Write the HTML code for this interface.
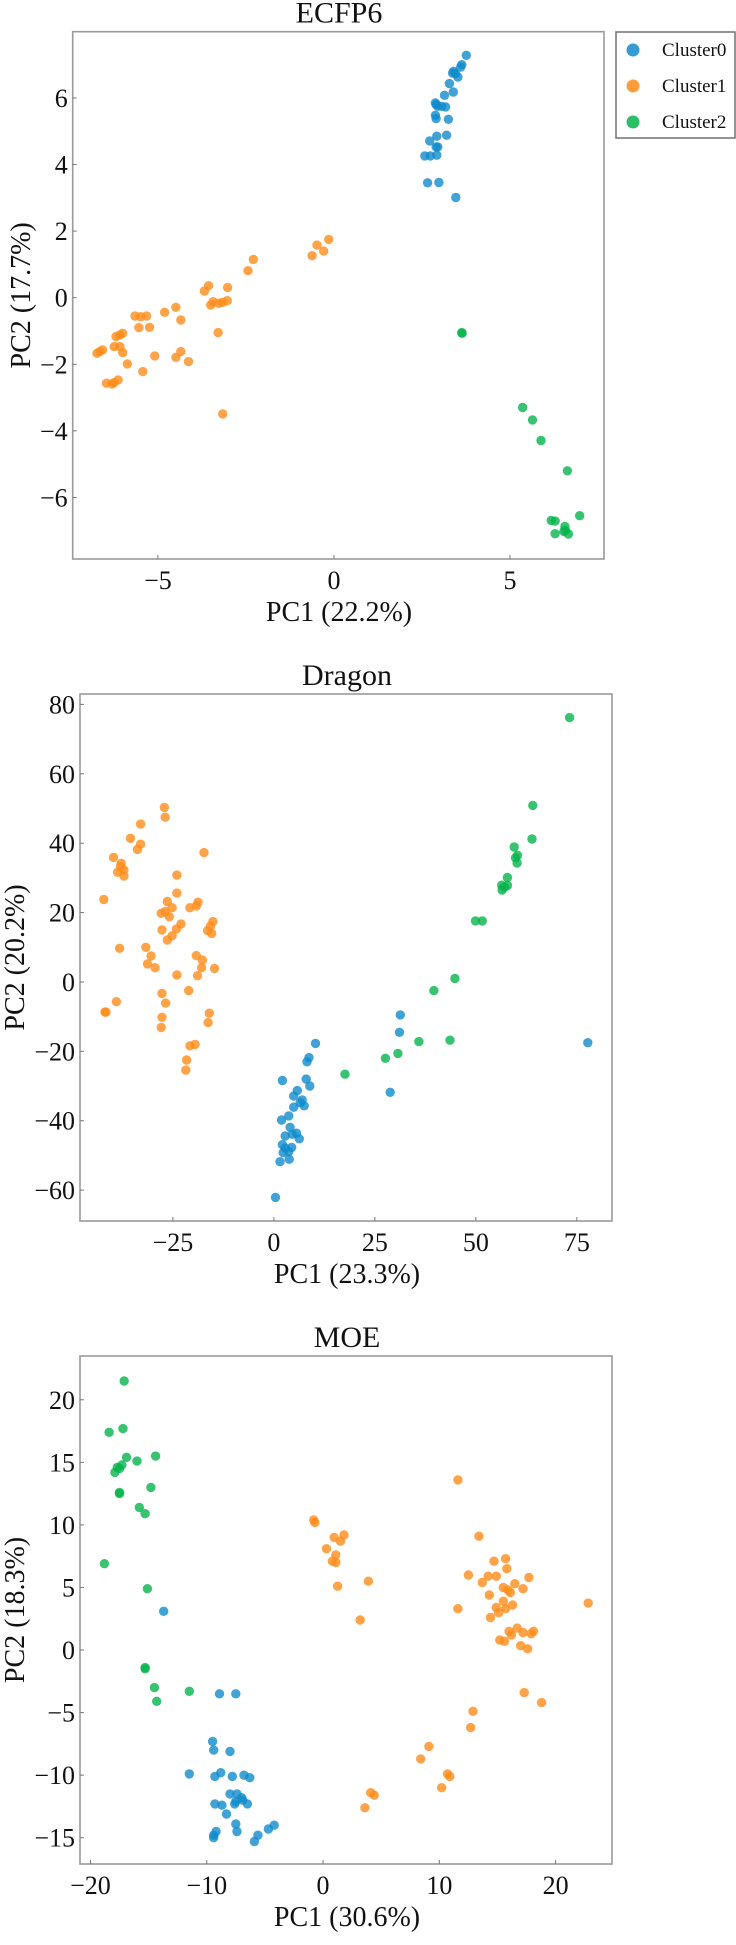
<!DOCTYPE html>
<html>
<head>
<meta charset="utf-8">
<style>
  html, body { margin: 0; padding: 0; background: #ffffff; }
  body { width: 736px; height: 1945px; overflow: hidden; }
  svg { display: block; font-family: "Liberation Serif", "DejaVu Serif", serif; }
</style>
</head>
<body>
<svg id="fig" width="736" height="1945" viewBox="0 0 736 1945" xmlns="http://www.w3.org/2000/svg"></svg>
<script>
// ---------- Data: ECFP6 ----------
const ecfpCluster0X = [3.76,3.63,3.6,3.52,3.37,3.45,3.28,3.39,3.14,2.88,2.95,3.06,3.17,2.88,2.9,3.25,3.2,2.92,2.72,2.9,2.95,2.58,2.74,2.92,2.66,2.98,3.46,3.4,2.9];
const ecfpCluster0Y = [7.28,7.0,6.93,6.63,6.75,6.73,6.43,6.18,6.08,5.85,5.75,5.75,5.73,5.48,5.38,5.36,4.88,4.85,4.71,4.53,4.53,4.26,4.26,4.28,3.45,3.46,3.01,6.8,5.8];
const ecfpCluster1X = [-0.15,-0.48,-0.29,-0.62,-2.29,-2.44,-3.56,-3.02,-3.68,-3.43,-3.5,-3.16,-3.03,-3.27,-4.49,-4.81,-4.35,-5.65,-5.49,-5.32,-5.54,-5.24,-3.29,-6.19,-6.08,-6.0,-6.24,-6.08,-6.65,-6.57,-6.73,-6.0,-5.09,-4.49,-4.35,-4.13,-5.87,-5.43,-6.46,-6.3,-6.13,-6.24,-3.16];
const ecfpCluster1Y = [1.75,1.58,1.4,1.26,1.15,0.81,0.36,0.31,0.2,-0.12,-0.22,-0.14,-0.09,-0.17,-0.29,-0.44,-0.67,-0.55,-0.57,-0.55,-0.9,-0.89,-1.05,-1.17,-1.12,-1.07,-1.47,-1.47,-1.62,-1.57,-1.67,-1.65,-1.75,-1.79,-1.62,-1.92,-1.99,-2.22,-2.57,-2.59,-2.47,-2.55,-3.49];
const ecfpCluster2X = [3.63,3.64,5.36,5.64,5.88,6.63,6.98,6.17,6.28,6.28,6.56,6.58,6.66,6.53];
const ecfpCluster2Y = [-1.05,-1.07,-3.3,-3.67,-4.29,-5.2,-6.55,-6.69,-6.71,-7.09,-6.87,-6.99,-7.1,-7.02];
const ecfpXTicks = [-5,0,5];
const ecfpYTicks = [-6,-4,-2,0,2,4,6];

// ---------- Data: Dragon ----------
const dragonCluster0X = [31.3,31.1,77.7,10.3,8.7,8.2,2.1,8,8.9,5.8,28.8,4.9,7,7.5,4.9,3.7,1.9,4,2.8,4.6,5.6,6.3,2.1,2.8,4.4,2.3,3.7,3.8,1.5,0.4,6.5];
const dragonCluster0Y = [-9.5,-14.5,-17.5,-17.7,-21.8,-23,-28.4,-28,-30,-31.3,-31.8,-32.9,-34,-35.7,-36.1,-38.6,-39.8,-41.9,-44.4,-43.9,-43.6,-45.2,-46.9,-47.9,-47.7,-49.2,-48.9,-51.1,-51.8,-62.1,-34.8];
const dragonCluster1X = [-27.1,-26.9,-33,-35.5,-33,-33.8,-39.7,-37.8,-38,-37.1,-38.7,-37.1,-17.3,-24,-24,-42.1,-26.4,-18.8,-25.2,-20.8,-19.2,-27.9,-26.9,-25.9,-23,-15.1,-15.7,-16.4,-15.4,-27.7,-24.1,-25.2,-26.4,-38.2,-31.7,-30.4,-31.3,-29.4,-19.2,-17.7,-17.9,-14.7,-24,-18.9,-21.1,-27.7,-26.8,-39,-41.8,-41.6,-16,-16.3,-27.7,-27.9,-20.8,-19.5,-21.6,-21.8];
const dragonCluster1Y = [50.3,47.5,45.5,41.4,39.7,38.2,35.9,34.2,33.2,32.3,31.6,30.5,37.3,30.8,25.6,23.8,23.2,23,21.4,21.4,21.9,19.8,20.3,18.8,16.7,17.4,16.1,14.8,14,15,15.3,13.3,12.1,9.7,10,7.5,5.2,4.1,7.6,6.3,4.1,3.9,2,1.8,-2.5,-3.3,-6.1,-5.7,-8.7,-8.7,-9,-11.7,-10.2,-13.1,-18.4,-18,-22.5,-25.4];
const dragonCluster2X = [73.2,64.1,63.9,59.5,60.3,59.8,60.2,57.8,56.4,57.8,56.5,57.1,49.9,51.6,44.8,39.6,35.9,43.6,30.7,27.6,17.6];
const dragonCluster2Y = [76.2,50.9,41.2,38.9,36.5,35.8,34.3,30.1,27.9,27.8,26.5,27.3,17.6,17.6,1,-2.5,-17.2,-16.8,-20.6,-22,-26.6];
const dragonXTicks = [-25,0,25,50,75];
const dragonYTicks = [-60,-40,-20,0,20,40,60,80];

// ---------- Data: MOE ----------
const moeCluster0X = [-13.7,-8.9,-7.5,-9.5,-9.4,-8,-11.5,-9.3,-8.8,-7.8,-6.8,-6.3,-8,-7.4,-7,-6.9,-7.6,-9.3,-8.7,-6.5,-7.5,-8.3,-7.5,-7.4,-9.2,-9.4,-9.4,-4.7,-4.2,-5.6,-5.9];
const moeCluster0Y = [3.1,-3.5,-3.5,-7.3,-8,-8.1,-9.9,-10.1,-9.8,-10.1,-10,-10.2,-11.5,-11.5,-11.8,-12,-12.3,-12.3,-12.4,-12.3,-12.1,-13.1,-13.9,-14.5,-14.5,-14.8,-15,-14.3,-14,-14.8,-15.3];
const moeCluster1X = [-0.8,-0.7,11.6,0.95,1.8,1.5,0.3,1.1,0.8,1.1,1.25,3.9,3.2,13.4,14.7,15.7,15.8,12.5,14.2,14.9,17.7,13.7,16.5,15.5,15.9,17.2,16.1,14.3,15.5,16.3,14.9,15.7,11.6,15.1,14.4,22.8,16.7,16,16.2,17.2,17.9,18.1,15.2,15.6,17,17.6,17.3,18.8,12.9,12.7,9.1,8.4,10.7,10.9,10.2,4.1,4.4,3.6];
const moeCluster1Y = [10.4,10.2,13.6,9,9.2,8.7,8.1,7.6,7.1,7,5.1,5.5,2.4,9.1,7.1,7.3,6.5,6,5.9,5.9,5.8,5.4,5.3,5,4.8,4.9,4.6,4.4,3.9,3.6,3.4,3.3,3.3,3,2.6,3.75,1.75,1.5,1.2,1.4,1.3,1.5,0.8,0.7,0.35,0.1,-3.4,-4.2,-4.9,-6.2,-7.7,-8.7,-9.9,-10.1,-11,-11.4,-11.6,-12.6];
const moeCluster2X = [-17.1,-18.4,-17.2,-16.9,-14.4,-16,-17.3,-17.7,-17.5,-17.9,-17.5,-17.5,-14.8,-15.8,-15.3,-18.8,-15.1,-15.3,-15.3,-14.5,-14.3,-11.5];
const moeCluster2Y = [21.5,17.4,17.7,15.4,15.5,15.1,14.8,14.6,14.5,14.2,12.6,12.5,13,11.4,10.9,6.9,4.9,-1.5,-1.4,-3,-4.1,-3.3];
const moeXTicks = [-20,-10,0,10,20];
const moeYTicks = [-15,-10,-5,0,5,10,15,20];

const clusterNames = ["Cluster0","Cluster1","Cluster2"];
const clusterColors = ["#108bcb","#ff8c1a","#06b44c"];

const NS = "http://www.w3.org/2000/svg";
const svg = document.getElementById("fig");
function mk(tag, attrs, parent) {
  const e = document.createElementNS(NS, tag);
  for (const k in attrs) e.setAttribute(k, attrs[k]);
  (parent || svg).appendChild(e);
  return e;
}
function fmt(v) { return v < 0 ? "\u2212" + Math.abs(v) : String(v); }

function panel(cfg) {
  const g = mk("g", {});
  
  
  const sx = v => cfg.L + (v - cfg.xmin) / (cfg.xmax - cfg.xmin) * (cfg.R - cfg.L);
  const sy = v => cfg.B - (v - cfg.ymin) / (cfg.ymax - cfg.ymin) * (cfg.B - cfg.T);

  // points
  cfg.series.forEach((s, i) => {
    const sg = mk("g", {}, g);
    
    
    s.x.forEach((xv, j) => {
      const c = mk("circle", {cx: sx(xv).toFixed(1), cy: sy(s.y[j]).toFixed(1), r: 4.7, fill: clusterColors[i], "fill-opacity": 0.8}, sg);
      
      
    });
  });

  // frame
  const fr = mk("rect", {x: cfg.L, y: cfg.T, width: cfg.R - cfg.L, height: cfg.B - cfg.T, fill: "none", stroke: "#9a9a9a", "stroke-width": 1.6}, g);
  
  

  // x ticks
  cfg.xt.forEach(v => {
    const X = sx(v);
    mk("line", {x1: X, x2: X, y1: cfg.B, y2: cfg.B - 4, stroke: "#777", "stroke-width": 1}, g);
    const t = mk("text", {x: X, y: cfg.B + 30, "text-anchor": "middle", "font-size": 26, fill: "#111"}, g);
    t.textContent = fmt(v);
    
    
  });
  // y ticks
  cfg.yt.forEach(v => {
    const Y = sy(v);
    mk("line", {x1: cfg.L, x2: cfg.L + 4, y1: Y, y2: Y, stroke: "#777", "stroke-width": 1}, g);
    const t = mk("text", {x: cfg.L - 5, y: Y + 9, "text-anchor": "end", "font-size": 26, fill: "#111"}, g);
    t.textContent = fmt(v);
    
    
  });
  // title
  const tt = mk("text", {x: cfg.tx, y: cfg.T - 9, "text-anchor": "middle", "font-size": 30, fill: "#111"}, g);
  tt.textContent = cfg.title;
  
  
  // x label
  const xl = mk("text", {x: cfg.tx, y: cfg.B + 62, "text-anchor": "middle", "font-size": 28, fill: "#111"}, g);
  xl.textContent = cfg.xlabel;
  
  
  // y label
  const cy = (cfg.T + cfg.B) / 2;
  const yl = mk("text", {x: cfg.ylx, y: cy, "text-anchor": "middle", "font-size": 28, fill: "#111", transform: `rotate(-90 ${cfg.ylx} ${cy})`}, g);
  yl.textContent = cfg.ylabel;
  
  
}

panel({key: "ecfp6", title: "ECFP6", xlabel: "PC1 (22.2%)", ylabel: "PC2 (17.7%)",
  L: 72.7, R: 604, T: 31.7, B: 559, xmin: -7.42, xmax: 7.67, ymin: -7.85, ymax: 7.99,
  tx: 339, ylx: 30, xt: ecfpXTicks, yt: ecfpYTicks,
  series: [{x: ecfpCluster0X, y: ecfpCluster0Y}, {x: ecfpCluster1X, y: ecfpCluster1Y}, {x: ecfpCluster2X, y: ecfpCluster2Y}]});

panel({key: "dragon", title: "Dragon", xlabel: "PC1 (23.3%)", ylabel: "PC2 (20.2%)",
  L: 80, R: 612, T: 694, B: 1221, xmin: -48, xmax: 83.7, ymin: -68.9, ymax: 83.0,
  tx: 347, ylx: 24, xt: dragonXTicks, yt: dragonYTicks,
  series: [{x: dragonCluster0X, y: dragonCluster0Y}, {x: dragonCluster1X, y: dragonCluster1Y}, {x: dragonCluster2X, y: dragonCluster2Y}]});

panel({key: "moe", title: "MOE", xlabel: "PC1 (30.6%)", ylabel: "PC2 (18.3%)",
  L: 80, R: 612, T: 1356, B: 1864, xmin: -20.9, xmax: 24.85, ymin: -17.1, ymax: 23.5,
  tx: 347, ylx: 24, xt: moeXTicks, yt: moeYTicks,
  series: [{x: moeCluster0X, y: moeCluster0Y}, {x: moeCluster1X, y: moeCluster1Y}, {x: moeCluster2X, y: moeCluster2Y}]});

// legend
const lg = mk("g", {});


const lb = mk("rect", {x: 616, y: 32, width: 119, height: 106, fill: "#fff", stroke: "#7a7a7a", "stroke-width": 1.6}, lg);


clusterNames.forEach((n, i) => {
  const y = 50 + i * 36;
  const e = mk("g", {}, lg);
  
  
  mk("circle", {cx: 633, cy: y, r: 6.5, fill: clusterColors[i], "fill-opacity": 0.85}, e);
  const t = mk("text", {x: 662, y: y + 6, "font-size": 19, fill: "#111"}, e);
  t.textContent = n;
});
</script>
</body>
</html>
